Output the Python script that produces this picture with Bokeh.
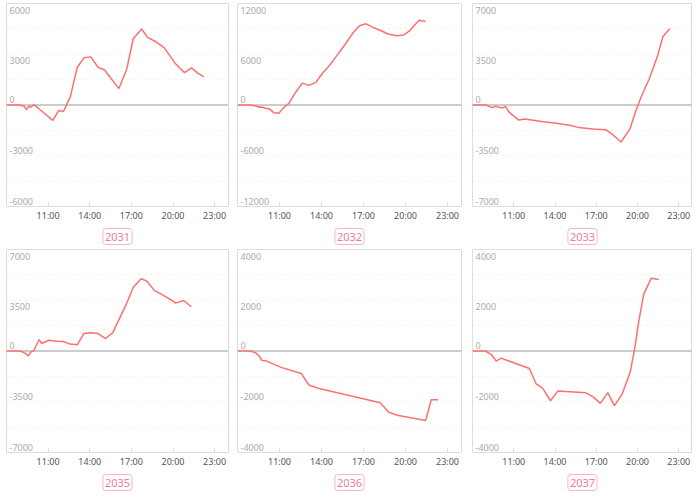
from bokeh.plotting import figure
from bokeh.layouts import gridplot
from bokeh.models import FixedTicker, Grid, Span, Title, Range1d
from bokeh.embed import file_html
from bokeh.resources import INLINE

# ---- data ----
x_ticks = [11, 14, 17, 20, 23]
x_tick_labels = ["11:00", "14:00", "17:00", "20:00", "23:00"]
x_start = 8.0
x_end = 24.0

names = ["2031", "2032", "2033", "2035", "2036", "2037"]
y_limits = [6000, 12000, 7000, 7000, 4000, 4000]

t2031 = [8.0, 8.9, 9.26, 9.45, 9.6, 9.76, 9.95, 10.3, 11.33, 11.76, 12.1, 12.6, 13.1, 13.6, 14.07,
         14.6, 15.07, 16.1, 16.67, 17.14, 17.74, 18.17, 18.7, 19.36, 20.2, 20.83, 21.33, 21.74, 22.2]
v2031 = [0, 0, -60, -290, -60, -135, 20, -190, -910, -330, -390, 480, 2230, 2800, 2845,
         2230, 2070, 970, 2130, 3930, 4490, 4000, 3770, 3390, 2420, 1915, 2190, 1915, 1665]

t2032 = [8.0, 8.9, 9.32, 9.56, 9.75, 9.99, 10.28, 10.6, 10.95, 11.3, 11.67, 12.15, 12.63, 13.1, 13.6,
         14.07, 14.55, 15.03, 15.63, 16.23, 16.71, 17.19, 17.67, 18.27, 18.75, 19.35, 19.88, 20.31,
         20.67, 20.98, 21.44]
v2032 = [0, 0, -116, -270, -232, -387, -464, -930, -970, -310, 190, 1510, 2590, 2320, 2670,
         3750, 4640, 5690, 7040, 8470, 9370, 9600, 9170, 8780, 8400, 8200, 8280, 8780,
         9480, 10020, 9870]

t2033 = [8.0, 8.96, 9.44, 9.68, 10.04, 10.2, 10.4, 10.64, 11.36, 11.8, 13.16, 14.1, 15.08, 15.74,
         16.76, 17.72, 18.2, 18.8, 19.45, 19.88, 20.24, 20.84, 21.44, 21.85, 22.36]
v2033 = [0, 0, -180, -90, -180, -200, -90, -470, -1040, -970, -1150, -1265, -1400, -1560,
         -1650, -1715, -2050, -2550, -1650, -400, 500, 1780, 3320, 4720, 5280]

t2035 = [8.0, 9.0, 9.36, 9.55, 9.79, 9.95, 10.35, 10.54, 11.05, 11.64, 12.1, 12.57, 13.1, 13.57,
         14.05, 14.6, 15.14, 15.66, 16.6, 17.14, 17.7, 18.13, 18.65, 19.19, 19.78, 20.2, 20.77, 21.32]
v2035 = [0, 0, -160, -340, -45, 0, 790, 520, 745, 680, 655, 475, 430, 1200,
         1265, 1200, 860, 1265, 3160, 4400, 4990, 4810, 4180, 3900, 3570, 3300, 3480, 3050]

t2036 = [8.0, 8.96, 9.32, 9.56, 9.75, 10.04, 11.12, 12.56, 13.1, 13.75, 18.2, 18.8, 19.4, 21.44,
         21.84, 22.32]
v2036 = [0, 0, -77, -206, -374, -387, -645, -890, -1340, -1470, -2040, -2410, -2530, -2735,
         -1920, -1920]

t2037 = [8.0, 8.95, 9.37, 9.72, 10.08, 12.14, 12.63, 13.1, 13.67, 14.2, 16.26, 16.77, 17.3, 17.84,
         18.32, 18.88, 19.48, 19.8, 20.1, 20.45, 21.0, 21.55]
v2037 = [0, 0, -140, -400, -280, -690, -1300, -1460, -1960, -1580, -1650, -1810, -2065, -1640,
         -2150, -1700, -810, 115, 1200, 2230, 2870, 2820]

series_t = [t2031, t2032, t2033, t2035, t2036, t2037]
series_v = [v2031, v2032, v2033, v2035, v2036, v2037]

# ---- style ----
LINE = "#ff6f6f"
FONT = "Noto Sans"
widths = [232, 234, 226]
border_left = [6, 5, 6]
border_right = [4, 5, 0]
HEIGHT = 246


def make_panel(i):
    col = i % 3
    lim = y_limits[i]
    p = figure(width=widths[col], height=HEIGHT, output_backend="svg", toolbar_location=None,
               x_range=Range1d(x_start, x_end), y_range=Range1d(-lim, lim),
               y_axis_location=None, min_border_left=border_left[col],
               min_border_right=border_right[col], min_border_top=3, min_border_bottom=40,
               background_fill_color="white", border_fill_color="white")
    p.outline_line_color = "#dddddd"
    p.outline_line_width = 1
    p.xgrid.visible = False
    p.ygrid.visible = False

    grid_ticks = [lim * k / 4 for k in range(-3, 4) if k != 0]
    g = Grid(dimension=1, ticker=FixedTicker(ticks=grid_ticks), grid_line_color="#eeeeee",
             grid_line_dash="dotted", grid_line_width=1)
    p.add_layout(g)
    p.add_layout(Span(location=0, dimension="width", line_color="#cccccc", line_width=2,
                      level="underlay"))

    ax = p.xaxis[0]
    ax.ticker = FixedTicker(ticks=x_ticks)
    ax.major_label_overrides = {t: s for t, s in zip(x_ticks, x_tick_labels)}
    ax.axis_line_color = None
    ax.major_tick_line_color = "#dddddd"
    ax.major_tick_in = 4
    ax.major_tick_out = 0
    ax.minor_tick_line_color = None
    ax.major_label_text_font = FONT
    ax.major_label_text_font_size = "9px"
    ax.major_label_text_color = "#555555"
    ax.major_label_standoff = 2

    pos = [lim, lim / 2]
    neg = [0, -lim / 2, -lim]
    p.text(x=[x_start] * 2, y=pos, text=[str(int(v)) for v in pos], x_offset=3, y_offset=3,
           text_align="left", text_baseline="top", text_font_size="9px",
           text_color="#aaaaaa", text_font={"value": FONT})
    p.text(x=[x_start] * 3, y=neg, text=[str(int(v)) for v in neg], x_offset=3, y_offset=-2,
           text_align="left", text_baseline="bottom", text_font_size="9px",
           text_color="#aaaaaa", text_font={"value": FONT})

    p.line(series_t[i], series_v[i], line_color=LINE, line_width=1.5)

    title = Title(text=names[i], align="center", text_color="#f07a9e", text_font=FONT,
                  text_font_size="11px", text_font_style="normal",
                  border_line_color="#f8b4c8", border_line_width=1,
                  background_fill_color="white",
                  padding=dict(left=2, right=2, top=4, bottom=4),
                  border_radius=3, standoff=4)
    p.add_layout(title, "below")
    return p


panels = [make_panel(i) for i in range(6)]
grid = gridplot([panels[0:3], panels[3:6]], toolbar_location=None)

open("out.html", "w").write(file_html(grid, INLINE))
